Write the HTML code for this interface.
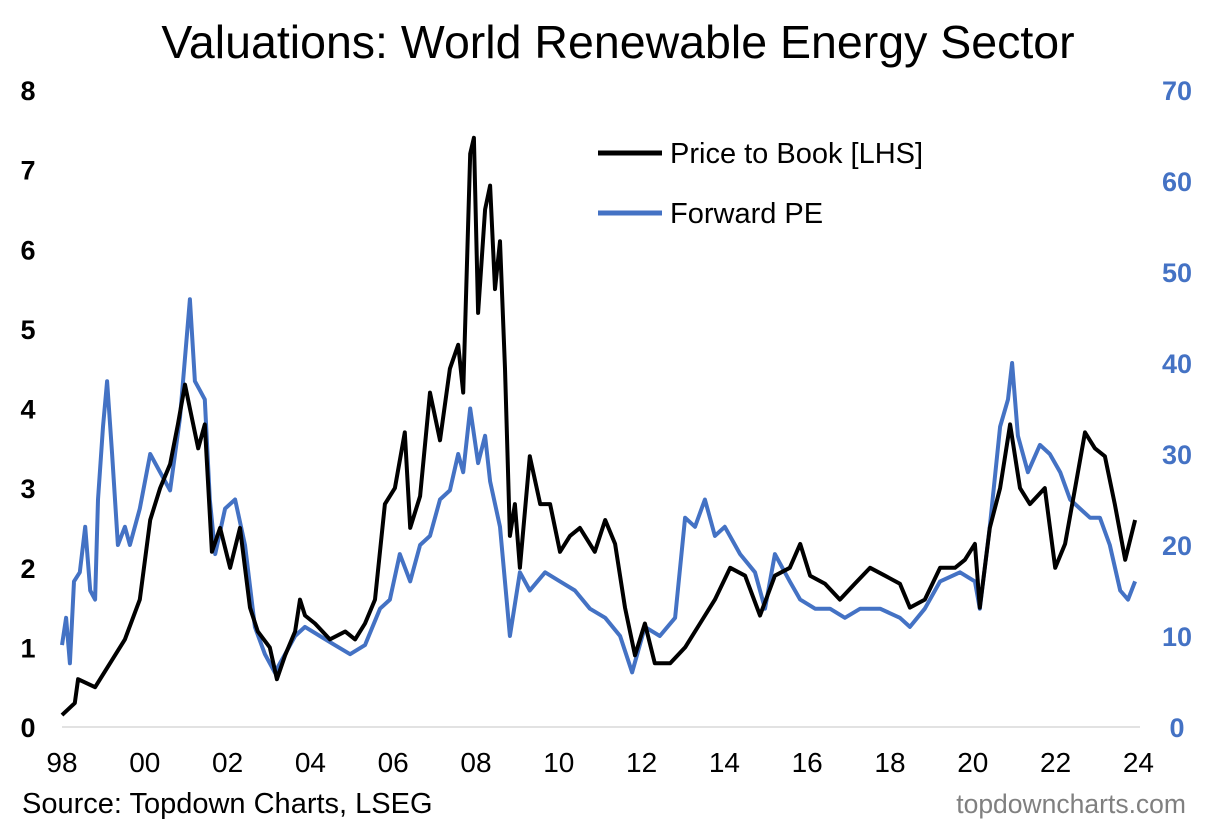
<!DOCTYPE html>
<html><head><meta charset="utf-8"><style>
body{margin:0;background:#fff;}
svg text{font-family:"Liberation Sans",Arial,sans-serif;}
</style></head><body>
<svg id="chart" width="1222" height="827" xmlns="http://www.w3.org/2000/svg">
<rect width="1222" height="827" fill="#fff"/>
<text x="618" y="58" font-size="46.5" text-anchor="middle">Valuations: World Renewable Energy Sector</text>
<g id="ylt"></g>
<g id="yrt"></g>
<g id="xt"></g>
<line x1="62" x2="1140" y1="727" y2="727" stroke="#d9d9d9" stroke-width="1.5"/>
<g id="series"></g>
<g>
<line x1="598" x2="662" y1="153" y2="153" stroke="#000" stroke-width="5"/>
<text x="670" y="163" font-size="29">Price to Book [LHS]</text>
<line x1="598" x2="662" y1="213" y2="213" stroke="#4472C4" stroke-width="5"/>
<text x="670" y="223" font-size="29">Forward PE</text>
</g>
<text x="22" y="813" font-size="29">Source: Topdown Charts, LSEG</text>
<text x="1186" y="813" font-size="26.5" fill="#808080" text-anchor="end">topdowncharts.com</text>
</svg>
<script>
const pbDates=[1998.00,1998.31,1998.39,1998.80,1999.16,1999.52,1999.88,2000.13,2000.37,2000.61,2000.80,2000.97,2001.09,2001.29,2001.45,2001.62,2001.82,2002.06,2002.30,2002.54,2002.73,2003.02,2003.19,2003.39,2003.63,2003.75,2003.87,2004.11,2004.47,2004.84,2005.08,2005.32,2005.56,2005.80,2006.04,2006.28,2006.41,2006.65,2006.89,2007.13,2007.37,2007.57,2007.69,2007.86,2007.95,2008.05,2008.22,2008.34,2008.46,2008.58,2008.70,2008.82,2008.94,2009.06,2009.30,2009.55,2009.79,2010.03,2010.27,2010.51,2010.87,2011.12,2011.36,2011.60,2011.84,2012.08,2012.32,2012.69,2013.05,2013.41,2013.77,2014.14,2014.50,2014.86,2015.22,2015.58,2015.83,2016.07,2016.43,2016.79,2017.15,2017.52,2017.88,2018.24,2018.48,2018.84,2019.21,2019.57,2019.81,2020.05,2020.17,2020.41,2020.66,2020.90,2021.14,2021.38,2021.74,2021.99,2022.23,2022.47,2022.71,2022.95,2023.19,2023.43,2023.68,2023.92];
const pbValues=[0.15,0.3,0.6,0.5,0.8,1.1,1.6,2.6,3.0,3.3,3.8,4.3,4.0,3.5,3.8,2.2,2.5,2.0,2.5,1.5,1.2,1.0,0.6,0.9,1.2,1.6,1.4,1.3,1.1,1.2,1.1,1.3,1.6,2.8,3.0,3.7,2.5,2.9,4.2,3.6,4.5,4.8,4.2,7.2,7.4,5.2,6.5,6.8,5.5,6.1,4.5,2.4,2.8,2.0,3.4,2.8,2.8,2.2,2.4,2.5,2.2,2.6,2.3,1.5,0.9,1.3,0.8,0.8,1.0,1.3,1.6,2.0,1.9,1.4,1.9,2.0,2.3,1.9,1.8,1.6,1.8,2.0,1.9,1.8,1.5,1.6,2.0,2.0,2.1,2.3,1.5,2.5,3.0,3.8,3.0,2.8,3.0,2.0,2.3,3.0,3.7,3.5,3.4,2.8,2.1,2.6];
const peDates=[1998.00,1998.10,1998.19,1998.29,1998.43,1998.56,1998.68,1998.80,1998.87,1998.99,1999.09,1999.21,1999.35,1999.52,1999.64,1999.88,2000.13,2000.37,2000.61,2000.85,2001.09,2001.21,2001.33,2001.45,2001.57,2001.70,2001.94,2002.18,2002.42,2002.66,2002.90,2003.14,2003.39,2003.63,2003.87,2004.23,2004.59,2004.96,2005.32,2005.68,2005.92,2006.16,2006.41,2006.65,2006.89,2007.13,2007.37,2007.57,2007.69,2007.86,2008.05,2008.22,2008.34,2008.58,2008.82,2009.06,2009.30,2009.67,2010.03,2010.39,2010.75,2011.12,2011.48,2011.77,2012.08,2012.44,2012.81,2013.05,2013.29,2013.53,2013.77,2014.01,2014.38,2014.74,2014.98,2015.22,2015.58,2015.83,2016.19,2016.55,2016.91,2017.28,2017.76,2018.24,2018.48,2018.84,2019.21,2019.69,2020.05,2020.17,2020.41,2020.66,2020.85,2020.95,2021.09,2021.33,2021.62,2021.86,2022.11,2022.35,2022.59,2022.83,2023.07,2023.31,2023.56,2023.75,2023.92];
const peValues=[9,12,7,16,17,22,15,14,25,33,38,30,20,22,20,24,30,28,26,34,47,38,37,36,25,19,24,25,20,11,8,6,8,10,11,10,9,8,9,13,14,19,16,20,21,25,26,30,28,35,29,32,27,22,10,17,15,17,16,15,13,12,10,6,11,10,12,23,22,25,21,22,19,17,13,19,16,14,13,13,12,13,13,12,11,13,16,17,16,13,22,33,36,40,32,28,31,30,28,25,24,23,23,20,15,14,16];
const leftTicks=[0,1,2,3,4,5,6,7,8];
const rightTicks=[0,10,20,30,40,50,60,70];
const xTickYears=[1998,2000,2002,2004,2006,2008,2010,2012,2014,2016,2018,2020,2022,2024];
const xTickLabels=["98","00","02","04","06","08","10","12","14","16","18","20","22","24"];

const NS="http://www.w3.org/2000/svg";
const x=y=>62+(y-1998)*41.4;
const yL=v=>727-v*(637/8);
const yR=v=>727-v*(637/70);
function mk(tag,attrs,parent,txt){const e=document.createElementNS(NS,tag);for(const k in attrs)e.setAttribute(k,attrs[k]);if(txt!==undefined)e.textContent=txt;parent.appendChild(e);return e;}
const ylt=document.getElementById('ylt');
leftTicks.forEach(t=>{const e=mk('text',{x:28,y:yL(t)+10,'font-size':27,'font-weight':'bold','text-anchor':'middle'},ylt,String(t));

});
const yrt=document.getElementById('yrt');
rightTicks.forEach(t=>{const e=mk('text',{x:1177,y:yR(t)+10,'font-size':27,'font-weight':'bold','fill':'#4472C4','text-anchor':'middle'},yrt,String(t));

});
const xt=document.getElementById('xt');
xTickYears.forEach((t,i)=>{const e=mk('text',{x:x(t),y:772,'font-size':28,'text-anchor':'middle'},xt,xTickLabels[i]);

});
const g=document.getElementById('series');
const pe=mk('path',{d:peDates.map((d,i)=>(i?'L':'M')+x(d).toFixed(1)+','+yR(peValues[i]).toFixed(1)).join(''),fill:'none',stroke:'#4472C4','stroke-width':4,'stroke-linejoin':'round'},g);


const pb=mk('path',{d:pbDates.map((d,i)=>(i?'L':'M')+x(d).toFixed(1)+','+yL(pbValues[i]).toFixed(1)).join(''),fill:'none',stroke:'#000','stroke-width':4,'stroke-linejoin':'round'},g);


</script>
</body></html>
